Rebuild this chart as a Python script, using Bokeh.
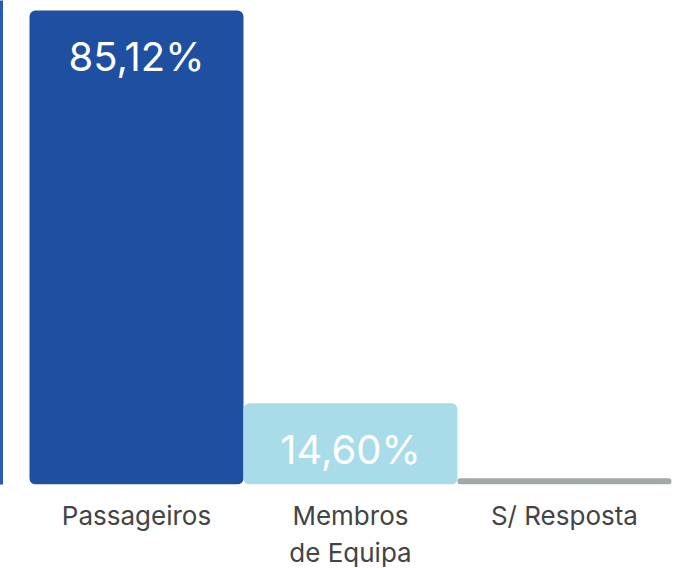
from bokeh.plotting import figure
from bokeh.models import FixedTicker, Range1d, ColumnDataSource
from bokeh.core.properties import value
from bokeh.embed import file_html
from bokeh.resources import INLINE

categories = ["Passageiros", "Membros\nde Equipa", "S/ Resposta"]
values = [85.12, 14.60, 1.1]
value_labels = ["85,12%", "14,60%", ""]
colors = ["#1F4FA0", "#A8DCE9", "#A5A8A8"]

positions = [i + 0.5 for i in range(len(categories))]
src = ColumnDataSource(dict(x=positions, top=values, label=value_labels, color=colors))

FONT = "Inter"

p = figure(frame_width=672, frame_height=484, output_backend="svg", toolbar_location=None,
           x_range=Range1d(-0.1355, 3.005), y_range=Range1d(0, 86.9),
           min_border_left=0, min_border_right=0, min_border_top=0, min_border_bottom=0)
p.vbar(x="x", top="top", width=1.0, bottom=0, fill_color="color", line_color=None,
       source=src, border_radius=6)
p.text(x="x", y="top", text="label", source=src, text_color="white",
       text_font=value(FONT), text_font_size="40px", text_align="center",
       text_baseline="middle", y_offset=46)

p.xaxis.ticker = FixedTicker(ticks=positions)
p.xaxis.major_label_overrides = {pos: cat for pos, cat in zip(positions, categories)}
p.xaxis.axis_line_color = None
p.xaxis.major_tick_line_color = None
p.xaxis.minor_tick_line_color = None
p.xaxis.major_label_standoff = 9
p.xaxis.major_label_text_font = FONT
p.xaxis.major_label_text_font_size = "26px"
p.xaxis.major_label_text_color = "#444444"

p.yaxis.ticker = FixedTicker(ticks=[])
p.yaxis.major_tick_line_color = None
p.yaxis.minor_tick_line_color = None
p.yaxis.major_label_standoff = 0
p.yaxis.axis_line_color = "#2B5BAE"
p.yaxis.axis_line_width = 5

p.xgrid.visible = False
p.ygrid.visible = False
p.outline_line_color = None

open("out.html", "w").write(file_html(p, INLINE))
